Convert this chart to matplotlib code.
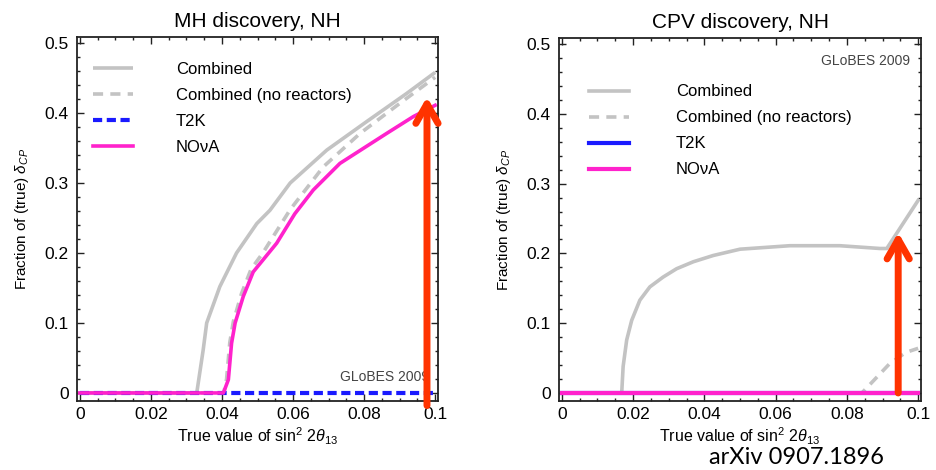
import matplotlib
matplotlib.use("Agg")
import matplotlib.pyplot as plt
from matplotlib.ticker import MultipleLocator, FuncFormatter

plt.rcParams['font.family'] = ['Liberation Sans', 'DejaVu Sans']
plt.rcParams['mathtext.fontset'] = 'custom'
plt.rcParams['mathtext.it'] = 'Liberation Sans:italic'
plt.rcParams['mathtext.rm'] = 'Liberation Sans'

# ---- MH discovery, NH ----
mh_comb_x = [0, 0.0329, 0.0347, 0.0357, 0.0394, 0.0441, 0.0498, 0.0535, 0.0592, 0.0695, 0.0808, 0.092, 0.1]
mh_comb_y = [0, 0, 0.061, 0.10, 0.152, 0.20, 0.242, 0.261, 0.30, 0.347, 0.388, 0.428, 0.458]
mh_nore_x = [0, 0.0405, 0.0413, 0.0422, 0.0432, 0.0455, 0.0482, 0.0515, 0.0592, 0.0685, 0.0789, 0.0901, 0.1]
mh_nore_y = [0, 0, 0.02, 0.072, 0.102, 0.142, 0.177, 0.20, 0.262, 0.323, 0.371, 0.414, 0.451]
mh_t2k_x = [0, 0.1]
mh_t2k_y = [0, 0]
mh_nova_x = [0, 0.0404, 0.0418, 0.0427, 0.0437, 0.046, 0.0488, 0.0554, 0.0605, 0.0657, 0.0732, 0.0864, 0.0939, 0.1]
mh_nova_y = [0, 0, 0.019, 0.071, 0.10, 0.138, 0.173, 0.214, 0.256, 0.29, 0.328, 0.371, 0.395, 0.411]

# ---- CPV discovery, NH ----
cpv_comb_x = [0, 0.0168, 0.0172, 0.0182, 0.0196, 0.0219, 0.0247, 0.0284, 0.0322, 0.0369, 0.0425,
              0.05, 0.064, 0.078, 0.0893, 0.0912, 0.1]
cpv_comb_y = [0, 0, 0.038, 0.076, 0.104, 0.133, 0.152, 0.166, 0.178, 0.188, 0.197,
              0.206, 0.211, 0.211, 0.207, 0.207, 0.276]
cpv_nore_x = [0, 0.0842, 0.092, 0.0965, 0.1]
cpv_nore_y = [0, 0, 0.042, 0.058, 0.064]
cpv_t2k_x = [0, 0.1]
cpv_t2k_y = [0, 0]
cpv_nova_x = [0, 0.1]
cpv_nova_y = [0, 0]

# arrows (x, y bottom, y top)
mh_arrow = (0.0977, -0.018, 0.423)
cpv_arrow = (0.0944, 0.0, 0.23)

GRAY = '#c3c3c3'
MAG = '#ff22cc'
BLUE = '#1a1aff'
RED = '#ff3300'

fig = plt.figure(figsize=(9.37, 4.70), dpi=100)
ax1 = fig.add_axes([77/937, 69/470, 361/937, 364/470])
ax2 = fig.add_axes([559/937, 69/470, 362/937, 363/470])


def fmt(v, pos):
    if abs(v) < 1e-9:
        return '0'
    return ('%.2f' % v).rstrip('0')


def style(ax, title, xlim):
    ax.set_xlim(*xlim)
    ax.set_ylim(-0.0115, 0.5086)
    ax.xaxis.set_major_locator(MultipleLocator(0.02))
    ax.xaxis.set_minor_locator(MultipleLocator(0.005))
    ax.yaxis.set_major_locator(MultipleLocator(0.1))
    ax.yaxis.set_minor_locator(MultipleLocator(0.02))
    ax.xaxis.set_major_formatter(FuncFormatter(fmt))
    ax.yaxis.set_major_formatter(FuncFormatter(fmt))
    ax.tick_params(which='both', direction='in', top=True, right=True, width=1.0, color='#222222')
    ax.tick_params(which='major', length=5, labelsize=12.5)
    ax.tick_params(which='minor', length=2.5)
    ax.tick_params(axis='x', pad=4)
    ax.tick_params(axis='y', pad=6)
    for s in ax.spines.values():
        s.set_linewidth(1.3)
        s.set_color('#222222')
    ax.set_title(title, fontsize=15, pad=7)
    ax.set_xlabel(r'True value of sin$^2$ 2$\theta_{13}$', fontsize=11.5, labelpad=3)
    ax.set_ylabel(r'Fraction of (true) $\delta_{CP}$', fontsize=11, labelpad=10)


legend_kw = dict(loc='upper left', frameon=False, fontsize=12, handlelength=2.4,
                 labelspacing=0.66, borderpad=0)

# left panel
l1, = ax1.plot(mh_comb_x, mh_comb_y, color=GRAY, lw=2.6, solid_capstyle='butt')
l2, = ax1.plot(mh_nore_x, mh_nore_y, color=GRAY, lw=2.6, ls=(0, (2.8, 2.0)))
l3, = ax1.plot(mh_t2k_x, mh_t2k_y, color=BLUE, lw=3.0, ls=(0, (2.2, 1.1)))
l4, = ax1.plot(mh_nova_x, mh_nova_y, color=MAG, lw=2.6)
style(ax1, 'MH discovery, NH', (-0.0008, 0.1008))
ax1.legend([l1, l2, l3, l4], ['Combined', 'Combined (no reactors)', 'T2K', 'NO\u03bdA'],
           bbox_to_anchor=(0.02, 0.955), handletextpad=2.6, **legend_kw)
ax1.text(0.975, 0.066, 'GLoBES 2009', transform=ax1.transAxes, ha='right', va='center',
         fontsize=10, color='#444444')

# right panel
r1, = ax2.plot(cpv_comb_x, cpv_comb_y, color=GRAY, lw=2.6)
r2, = ax2.plot(cpv_nore_x, cpv_nore_y, color=GRAY, lw=2.6, ls=(0, (2.8, 2.0)))
r3, = ax2.plot(cpv_t2k_x, cpv_t2k_y, color=BLUE, lw=3.0)
r4, = ax2.plot(cpv_nova_x, cpv_nova_y, color=MAG, lw=3.0)
style(ax2, 'CPV discovery, NH', (-0.0008, 0.1008))
ax2.legend([r1, r2, r3, r4], ['Combined', 'Combined (no reactors)', 'T2K', 'NO\u03bdA'],
           bbox_to_anchor=(0.06, 0.895), handletextpad=2.8, **legend_kw)
ax2.text(0.97, 0.937, 'GLoBES 2009', transform=ax2.transAxes, ha='right', va='center',
         fontsize=10, color='#444444')

# red arrows
for ax, (ax_x, y0, y1) in [(ax1, mh_arrow), (ax2, cpv_arrow)]:
    ax.annotate('', xy=(ax_x, y1), xytext=(ax_x, y0), xycoords='data',
                arrowprops=dict(arrowstyle='->,head_length=0.7,head_width=0.4',
                                color=RED, lw=5, mutation_scale=20,
                                shrinkA=0, shrinkB=0),
                annotation_clip=False, zorder=10)

fig.text(797/937, 1 - 458/470, 'arXiv 0907.1896', fontsize=17, family='Lato',
         ha='center', va='center', color='black')

fig.savefig('out.png', dpi=100)
